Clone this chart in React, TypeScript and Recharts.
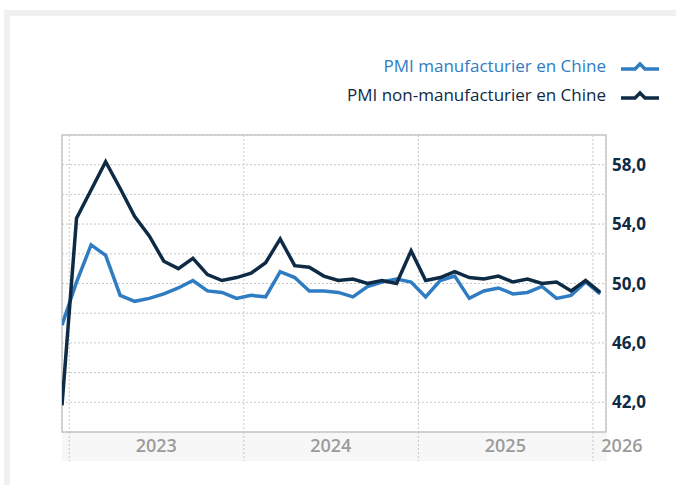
import { LineChart, Line, XAxis, YAxis, CartesianGrid, ReferenceArea } from 'recharts';

// monthly readings, Dec 2022 -> Jan 2026
const months = [
    '2022-12',
    '2023-01', '2023-02', '2023-03', '2023-04', '2023-05', '2023-06',
    '2023-07', '2023-08', '2023-09', '2023-10', '2023-11', '2023-12',
    '2024-01', '2024-02', '2024-03', '2024-04', '2024-05', '2024-06',
    '2024-07', '2024-08', '2024-09', '2024-10', '2024-11', '2024-12',
    '2025-01', '2025-02', '2025-03', '2025-04', '2025-05', '2025-06',
    '2025-07', '2025-08', '2025-09', '2025-10', '2025-11', '2025-12',
    '2026-01',
];

const manufacturing = [
    47.2,
    50.1, 52.6, 51.9, 49.2, 48.8, 49.0, 49.3, 49.7, 50.2, 49.5, 49.4, 49.0,
    49.2, 49.1, 50.8, 50.4, 49.5, 49.5, 49.4, 49.1, 49.8, 50.1, 50.3, 50.1,
    49.1, 50.2, 50.5, 49.0, 49.5, 49.7, 49.3, 49.4, 49.8, 49.0, 49.2, 50.1,
    49.3,
];

const nonManufacturing = [
    41.8,
    54.4, 56.3, 58.2, 56.4, 54.5, 53.2, 51.5, 51.0, 51.7, 50.6, 50.2, 50.4,
    50.7, 51.4, 53.0, 51.2, 51.1, 50.5, 50.2, 50.3, 50.0, 50.2, 50.0, 52.2,
    50.2, 50.4, 50.8, 50.4, 50.3, 50.5, 50.1, 50.3, 50.0, 50.1, 49.5, 50.2,
    49.4,
];

const yearTicks = [0.5, 12.5, 24.5, 36.5];
const yearLabels = ['2023', '2024', '2025', '2026'];
const yTicks = [42, 44, 46, 48, 50, 52, 54, 56, 58];
const yLabelTicks = [42, 46, 50, 54, 58];

const series = [
    { key: 'manuf', name: 'PMI manufacturier en Chine', color: '#2f7cc3' },
    { key: 'nonManuf', name: 'PMI non-manufacturier en Chine', color: '#0e2b45' },
];

const data = months.map((m, i) => ({
    t: i,
    month: m,
    manuf: manufacturing[i],
    nonManuf: nonManufacturing[i],
}));

const FONT = '"Open Sans", "Noto Sans", sans-serif';

function YearTick(props: any) {
    const { x, y, index } = props;
    const dx = index === yearLabels.length - 1 ? 29 : 87;
    return (
        <g>
            <line x1={x} x2={x} y1={y} y2={y + 29} stroke="#c6c6c6" strokeDasharray="2 2" />
            <text x={x + dx} y={y + 20} textAnchor="middle" fill="#9b9b9b" fontSize={18} fontWeight={600} fontFamily={FONT}>
                {yearLabels[index]}
            </text>
        </g>
    );
}

function ValueTick(props: any) {
    const { x, y, payload } = props;
    if (!yLabelTicks.includes(payload.value)) return null;
    return (
        <text x={x} y={y + 6} textAnchor="start" fill="#0e2b45" fontSize={17} fontWeight={700} fontFamily={FONT}>
            {payload.value.toFixed(1).replace('.', ',')}
        </text>
    );
}

function LegendIcon({ color }: { color: string }) {
    return (
        <svg width={38} height={12} style={{ display: 'block' }}>
            <path d="M0,9 H14 L19,4 L24,9 H38" fill="none" stroke={color} strokeWidth={3.5} />
        </svg>
    );
}

export default function App() {
    return (
        <div
            style={{
                position: 'absolute',
                left: 0,
                top: 0,
                width: 676,
                height: 485,
                background: '#fff',
                overflow: 'hidden',
                fontFamily: FONT,
            }}
        >
            <div
                style={{
                    position: 'absolute',
                    left: 4,
                    top: 10,
                    width: 700,
                    height: 520,
                    boxSizing: 'border-box',
                    border: '6px solid #f0f0f0',
                }}
            />
            <div style={{ position: 'absolute', left: 62, top: 432, width: 545, height: 29, background: '#f7f7f7' }} />

            {series.map((s, i) => (
                <div
                    key={s.key}
                    style={{
                        position: 'absolute',
                        right: 17,
                        top: 55 + i * 29,
                        height: 22,
                        display: 'flex',
                        alignItems: 'center',
                        gap: 15,
                        color: s.color,
                        fontSize: 17,
                        lineHeight: '22px',
                        whiteSpace: 'nowrap',
                    }}
                >
                    <span>{s.name}</span>
                    <LegendIcon color={s.color} />
                </div>
            ))}

            <div style={{ position: 'absolute', left: 0, top: 0 }}>
                <LineChart width={676} height={485} data={data} margin={{ top: 135, right: 0, bottom: 23, left: 62 }}>
                    <CartesianGrid stroke="#c6c6c6" strokeDasharray="2 2" />
                    <XAxis
                        dataKey="t"
                        type="number"
                        domain={[0, 37.4]}
                        ticks={yearTicks}
                        tick={<YearTick />}
                        tickLine={false}
                        axisLine={false}
                        tickSize={0}
                        tickMargin={0}
                        height={30}
                        allowDataOverflow
                        interval={0}
                    />
                    <YAxis
                        orientation="right"
                        domain={[40, 60]}
                        ticks={yTicks}
                        tick={<ValueTick />}
                        tickLine={false}
                        axisLine={false}
                        tickSize={0}
                        tickMargin={6}
                        width={70}
                        allowDataOverflow
                        interval={0}
                    />
                    <ReferenceArea x1={0} x2={37.4} y1={40} y2={60} fill="none" stroke="#c8c8c8" strokeWidth={1.5} />
                    {series.map((s) => (
                        <Line
                            key={s.key}
                            dataKey={s.key}
                            name={s.name}
                            type="linear"
                            stroke={s.color}
                            strokeWidth={3.5}
                            dot={false}
                            activeDot={false}
                            isAnimationActive={false}
                        />
                    ))}
                </LineChart>
            </div>
        </div>
    );
}
